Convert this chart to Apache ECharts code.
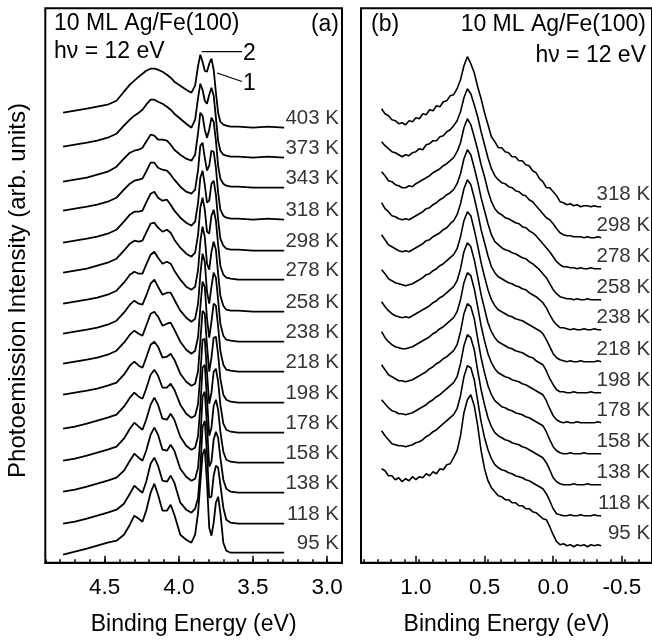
<!DOCTYPE html>
<html><head><meta charset="utf-8">
<script src="https://cdn.jsdelivr.net/npm/echarts@6/dist/echarts.min.js"></script>
<style>html,body{margin:0;padding:0;background:#fff}#c{width:652px;height:641px}</style>
</head><body><div id="c"></div>
<script>
// ---------- Panel (a): 10 ML Ag/Fe(100) ----------
const energyA = [4.78,4.70,4.62,4.55,4.48,4.42,4.37,4.33,4.30,4.27,4.245,4.22,4.19,4.165,4.14,4.11,4.08,4.055,4.03,3.99,3.95,3.915,3.89,3.87,3.855,3.84,3.825,3.81,3.795,3.78,3.765,3.75,3.735,3.72,3.70,3.68,3.65,3.60,3.50,3.40,3.29];
const tempsA = ['403 K','373 K','343 K','318 K','298 K','278 K','258 K','238 K','218 K','198 K','178 K','158 K','138 K','118 K','95 K'];
const offsetsA = [435,405,375,343,312,283,251,221,191,160,130,100,70,39,10];
const a403 = [15,17,19,21,23,27,36,43,47,51,54,57,59,59,58,56,53,50,46,42,38,35,42,62,73,66,57,56,64,69,58,35,15,6,3,2,1,1,0,1,0];
const a373 = [11,13,15,17,20,24,32,38,42,45,48,53,58,58,56,54,51,48,44,39,34,30,38,60,74,68,57,54,63,70,62,40,17,7,3,2,1,1,0,1,0];
const a343 = [6,8,10,13,16,21,29,35,37,38,40,46,53,52,48,48,47,43,38,33,29,27,33,55,75,72,58,50,58,70,66,47,22,9,4,2,1,1,0,0,0];
const a318 = [9,11,13,15,18,22,30,36,39,40,41,48,57,57,52,50,49,45,40,33,28,26,30,50,74,77,62,49,54,69,68,52,27,10,4,2,1,1,0,1,0];
const a298 = [8,10,12,14,17,21,29,36,39,39,40,48,57,59,53,50,51,46,40,33,28,25,29,48,73,80,66,48,50,67,70,56,31,12,5,2,1,1,0,0,0];
const a278 = [7,9,11,14,17,21,29,36,39,38,39,47,56,57,52,48,50,47,40,32,26,23,27,45,72,82,70,48,46,64,70,59,35,14,5,2,1,0,0,0,0];
const a258 = [8,10,12,14,17,21,29,37,40,38,38,47,57,60,54,48,50,48,41,32,25,22,25,42,70,85,75,48,42,60,70,62,38,16,6,2,1,1,0,0,0];
const a238 = [8,10,12,14,17,21,29,37,41,38,37,46,58,62,55,47,49,49,42,31,24,20,23,38,67,88,80,50,38,55,69,64,42,18,6,2,1,0,0,0,0];
const a218 = [8,10,12,14,17,21,29,37,41,38,36,46,58,60,55,46,48,49,42,30,22,18,21,35,64,90,85,53,34,50,68,66,45,21,7,2,1,0,0,0,0];
const a198 = [8,10,12,14,17,20,28,37,41,37,35,45,58,61,56,45,46,49,43,29,21,17,19,32,62,92,89,57,31,45,65,66,48,24,8,3,1,0,0,0,0];
const a178 = [4,6,9,12,15,18,26,35,40,36,34,44,58,63,57,45,45,49,43,28,19,15,17,29,58,93,94,60,29,40,61,64,51,28,9,3,1,0,0,0,0];
const a158 = [2,4,7,10,13,16,24,34,40,36,33,43,58,65,58,44,43,49,43,26,17,13,15,27,56,95,98,64,27,35,57,63,53,31,11,3,1,0,0,0,0];
const a138 = [1,3,6,9,12,15,22,32,39,35,32,42,58,65,58,43,42,48,42,24,16,12,14,25,54,96,101,67,26,31,53,61,55,35,13,4,1,0,0,0,0];
const a118 = [0,2,5,8,11,14,20,30,38,34,31,42,60,66,58,43,42,48,41,21,14,11,15,26,55,97,103,70,26,27,48,58,56,39,16,4,1,0,0,0,0];
const a95  = [-2,1,4,7,10,12,18,28,37,34,31,42,60,69,58,42,42,48,38,18,13,10,18,40,70,98,104,70,25,17,30,50,56,40,10,2,0,0,0,0,0];
const majorTicksA = [4.5,4.0,3.5,3.0];

// ---------- Panel (b): valence band near E_F ----------
const energyB = [1.25,1.225,1.20,1.175,1.15,1.125,1.10,1.075,1.05,1.025,1.00,0.975,0.95,0.925,0.90,0.875,0.85,0.825,0.80,0.775,0.75,0.725,0.70,0.675,0.65,0.625,0.60,0.575,0.55,0.525,0.50,0.475,0.45,0.425,0.40,0.375,0.35,0.325,0.30,0.275,0.25,0.225,0.20,0.175,0.15,0.125,0.10,0.075,0.05,0.025,0.00,-0.025,-0.05,-0.075,-0.10,-0.125,-0.15,-0.175,-0.20,-0.225,-0.25,-0.275,-0.30,-0.325,-0.35];
const tempsB = ['318 K','298 K','278 K','258 K','238 K','218 K','198 K','178 K','158 K','138 K','118 K','95 K'];
const offsetsB = [356,325,294,263,233,201,170,140,109,78,47,17];
const b318 = [98,93,91,87,86, 83,84,82,86,85, 89,88,93,92,97, 96,101,100,105,106, 111,112,118,127,141, 150,143,134,120,108, 94,82,70,65,59, 59,55,54,50,50, 46,46,42,41,36, 34,28,25,19,19, 15,11,5,4,2, 3,1,2,0,1, 1,0,1,0,0];
const b298 = [96,92,89,86,85, 83,81,83,82,85, 86,89,88,93,94, 97,97,101,102,106, 108,112,117,126,140, 149,144,133,121,106, 93,80,69,62,58, 55,54,51,50,47, 46,43,42,38,36, 32,28,24,20,18, 14,9,5,3,2, 2,1,1,1,0, 1,0,0,1,0];
const b278 = [97,93,88,87,84, 83,81,81,83,82, 85,87,89,91,93, 96,98,100,103,105, 108,111,117,126,141, 150,144,132,119,104, 92,78,67,60,56, 54,51,50,48,46, 45,42,41,38,36, 33,29,25,21,17, 12,7,4,2,2, 1,1,0,1,0, 0,1,0,0,0];
const b258 = [97,91,88,84,83, 81,80,81,80,82, 84,86,88,91,92, 95,97,100,102,105, 107,110,116,126,141, 150,145,132,118,102, 89,76,65,58,55, 52,50,49,47,46, 44,42,41,38,36, 33,30,26,22,16, 10,6,3,2,1, 1,0,1,0,0, 1,0,0,0,0];
const b238 = [95,90,85,83,81, 79,78,79,78,80, 82,84,86,89,90, 93,95,97,100,102, 106,109,115,126,141, 150,145,132,117,100, 87,74,63,57,53, 51,49,47,46,44, 43,41,40,37,35, 33,30,27,22,15, 9,5,2,2,1, 0,1,0,0,1, 0,0,1,0,0];
const b218 = [92,88,83,81,79, 78,77,76,77,78, 80,82,84,87,88, 91,93,96,98,101, 104,107,113,125,141, 150,146,132,116,99, 85,72,62,56,52, 50,48,46,45,43, 42,41,39,37,35, 33,31,28,22,15, 8,4,2,1,0, 1,0,0,1,0, 0,0,0,1,0];
const b198 = [91,86,82,79,77, 76,75,76,75,77, 79,81,83,85,87, 90,92,95,97,100, 103,106,112,124,141, 150,146,133,116,98, 84,70,61,55,51, 49,47,45,44,42, 41,40,38,36,35, 32,30,28,22,14, 8,3,1,1,0, 0,1,0,0,0, 0,1,0,0,0];
const b178 = [91,85,81,78,76, 75,74,74,75,76, 78,80,82,84,86, 89,91,94,96,99, 102,105,111,123,140, 150,147,134,116,97, 82,69,60,54,50, 48,46,45,43,42, 41,39,38,36,34, 32,30,28,22,14, 7,3,1,0,1, 0,0,1,0,0, 0,0,0,1,0];
const b158 = [89,84,79,77,75, 73,73,72,73,74, 76,78,80,82,85, 87,90,92,95,97, 100,103,109,122,140, 150,147,135,115,96, 81,68,59,53,50, 47,46,44,43,41, 40,39,37,36,34, 32,30,28,22,14, 7,3,1,0,0, 1,0,0,0,1, 0,0,0,0,0];
const b138 = [85,81,77,74,73, 71,71,70,71,72, 74,76,78,80,83, 85,88,90,93,96, 99,102,108,121,139, 150,147,135,114,95, 80,67,58,52,49, 47,45,44,42,41, 40,38,37,35,33, 31,29,27,22,15, 7,3,1,0,0, 0,1,0,0,0, 1,0,0,0,0];
const b118 = [85,80,76,72,71, 70,70,69,70,71, 73,74,76,79,81, 84,86,89,92,95, 98,101,107,120,139, 150,148,136,115,94, 78,66,57,51,48, 46,45,43,42,40, 39,38,36,35,33, 31,29,27,22,15, 7,2,1,0,0, 1,0,0,1,0, 0,0,1,0,0];
const b95  = [77,75,70,70,66, 68,64,67,65,69, 66,69,68,72,70, 74,72,77,76,81, 82,88,95,110,133, 146,151,140,120,95, 77,65,58,54,50, 49,46,46,43,43, 40,40,37,37,34, 33,30,27,26,19, 11,4,1,2,0, 1,-1,1,0,1, -1,1,0,1,0];
const majorTicksB = [1.0,0.5,0.0,-0.5];

const spectraA = [a403,a373,a343,a318,a298,a278,a258,a238,a218,a198,a178,a158,a138,a118,a95];
const spectraB = [b318,b298,b278,b258,b238,b218,b198,b178,b158,b138,b118,b95];

const FONT = "'Liberation Sans', Arial, Helvetica, sans-serif";
const chart = echarts.init(document.getElementById('c'), null, {renderer:'canvas'});

function xAxis(grid, min, max, majors) {
  return {
    type:'value', gridIndex:grid, min:min, max:max, interval:0.1, inverse:true, position:'bottom',
    name:'Binding Energy (eV)', nameLocation:'middle', nameGap:50,
    nameTextStyle:{fontFamily:FONT, fontSize:23, color:'#000'},
    axisLine:{show:true, onZero:false, lineStyle:{color:'#000', width:2}},
    axisTick:{show:true, inside:true, length:3.5, lineStyle:{color:'#000', width:1.5}},
    axisLabel:{show:true, customValues:majors, margin:14, fontFamily:FONT, fontSize:22.5, color:'#000',
      formatter:v=>Number(v).toFixed(1)},
    splitLine:{show:false}
  };
}
function majorMarks(majors) {
  return {silent:true, symbol:['none','none'], label:{show:false},
    lineStyle:{color:'#000', width:1.5, type:'solid'},
    data: majors.map(v=>[{coord:[v,0]},{coord:[v,7]}])};
}

const series = [];
spectraA.forEach((s,i)=>{
  series.push({type:'line', xAxisIndex:0, yAxisIndex:0, showSymbol:false, symbol:'none',
    lineStyle:{color:'#000', width:1.8}, silent:true,
    markLine: i===0 ? majorMarks(majorTicksA) : undefined,
    data: s.map((v,j)=>[energyA[j], offsetsA[i]+v])});
});
series.push({type:'scatter', xAxisIndex:0, yAxisIndex:0, symbolSize:0, silent:true,
  label:{show:true, position:'left', distance:0, formatter:p=>p.name, fontFamily:FONT, fontSize:20.5, color:'#000'},
  data: tempsA.map((t,i)=>({name:t, value:[2.92, offsetsA[i]+9]}))});
spectraB.forEach((s,i)=>{
  series.push({type:'line', xAxisIndex:1, yAxisIndex:1, showSymbol:false, symbol:'none',
    lineStyle:{color:'#000', width:1.6}, silent:true,
    markLine: i===0 ? majorMarks(majorTicksB) : undefined,
    data: s.map((v,j)=>[energyB[j], offsetsB[i]+v])});
});
series.push({type:'scatter', xAxisIndex:1, yAxisIndex:1, symbolSize:0, silent:true,
  label:{show:true, position:'left', distance:0, formatter:p=>p.name, fontFamily:FONT, fontSize:20.5, color:'#000'},
  data: tempsB.map((t,i)=>({name:t, value:[-0.706, offsetsB[i]+12]}))});

const txt = (x,y,text,align,size)=>({type:'text', x:x, y:y, silent:true,
  style:{text:text, fill:'#000', font:(size||23)+'px '+FONT, align:align||'left', verticalAlign:'middle'}});

chart.setOption({
  animation:false,
  backgroundColor:'#fff',
  grid:[
    {left:45.3, top:8.3, width:296.7, height:554.4, show:true, borderColor:'#000', borderWidth:2, backgroundColor:'transparent'},
    {left:361, top:8.3, width:292, height:554.4, show:true, borderColor:'#000', borderWidth:2, backgroundColor:'transparent'}
  ],
  xAxis:[xAxis(0,2.9,4.9,majorTicksA), xAxis(1,-0.72,1.4,majorTicksB)],
  yAxis:[
    {type:'value', gridIndex:0, min:0, max:554.4, axisLine:{show:false}, axisTick:{show:false}, axisLabel:{show:false}, splitLine:{show:false}},
    {type:'value', gridIndex:1, min:0, max:554.4, axisLine:{show:false}, axisTick:{show:false}, axisLabel:{show:false}, splitLine:{show:false}}
  ],
  series: series,
  graphic:[
    {type:'text', x:18, y:290.5, rotation:Math.PI/2, silent:true,
     style:{text:'Photoemission Intensity (arb. units)', fill:'#000', font:'24px '+FONT, align:'center', verticalAlign:'middle'}},
    txt(54,23.5,'10 ML Ag/Fe(100)'),
    txt(54,52,'hν = 12 eV'),
    txt(339,25,'(a)','right'),
    txt(243,54,'2'),
    txt(243,84,'1'),
    {type:'line', silent:true, shape:{x1:201.7,y1:51.7,x2:242,y2:51.7}, style:{stroke:'#000', lineWidth:1.3}},
    {type:'line', silent:true, shape:{x1:217,y1:73,x2:242,y2:81.5}, style:{stroke:'#000', lineWidth:1.3}},
    txt(371,25,'(b)'),
    txt(646,25,'10 ML Ag/Fe(100)','right'),
    txt(646,56,'hν = 12 eV','right')
  ]
});
</script></body></html>
